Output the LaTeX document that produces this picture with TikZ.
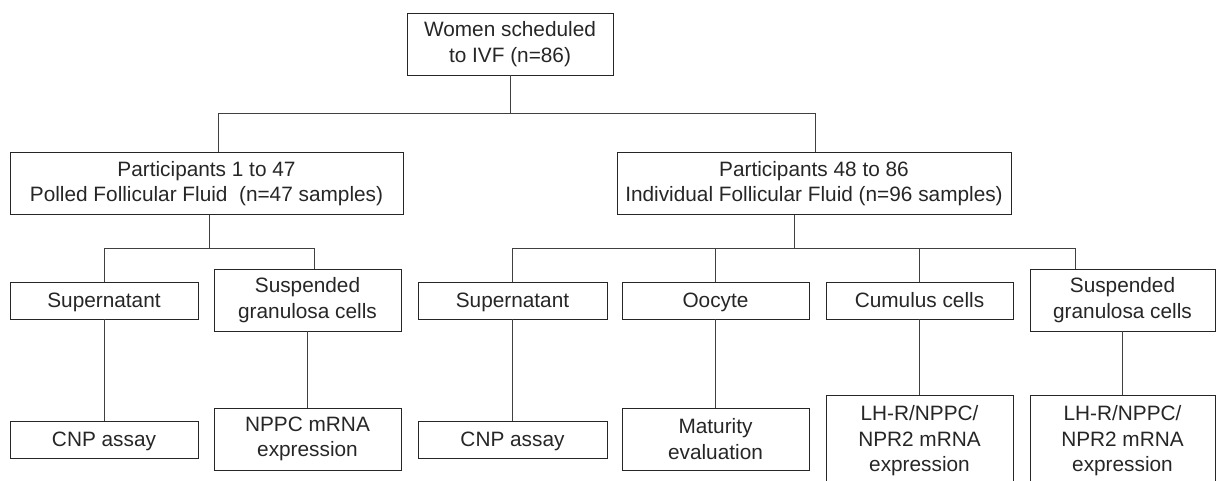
\documentclass[tikz,border=0pt]{standalone}
\usepackage{fontspec}
\setmainfont{Liberation Sans}
\usepackage{tikz}
\def\boxfont{\fontsize{20.8}{25.5}\selectfont}
\def\dline{\draw[black!75,line width=0.8pt]}

\begin{document}
\begin{tikzpicture}[x=1pt,y=-1pt,
    box/.style={draw=black!85,line width=0.9pt,inner sep=0pt,align=center,font=\boxfont,text=black!85},
    onebox/.style={box,minimum height=37pt,text height=15pt,text depth=0.5pt},
    twobox/.style={box,minimum height=62pt}]
  \useasboundingbox (0,0) rectangle (1216,481);
  \clip (0,0) rectangle (1216,481);
  % top
  \node[twobox,minimum width=206pt] (women) at (510,44) {Women scheduled\\to IVF (n=86)};
  % groups
  \node[twobox,minimum width=393pt] (pleft) at (206.5,183.5) {Participants 1 to 47\\Polled Follicular Fluid~~(n=47 samples)};
  \node[twobox,minimum width=394pt] (pright) at (814,183.5) {Participants 48 to 86\\Individual Follicular Fluid (n=96 samples)};
  % samples
  \node[onebox,minimum width=188pt] (supl) at (104,300.5) {Supernatant};
  \node[twobox,minimum width=187pt] (suspl) at (307.5,300) {Suspended\\granulosa cells};
  \node[onebox,minimum width=189pt] (supr) at (512.5,300.5) {Supernatant};
  \node[onebox,minimum width=187pt] (oocyte) at (715.5,300.5) {Oocyte};
  \node[onebox,minimum width=187pt] (cumulus) at (919.5,300.5) {Cumulus cells};
  \node[twobox,minimum width=185pt] (suspr) at (1122.5,300) {Suspended\\granulosa cells};
  % analyses
  \node[onebox,minimum width=188pt] (cnpl) at (104,439.5) {CNP assay};
  \node[twobox,minimum width=187pt] (nppc) at (307.5,439) {NPPC mRNA\\expression};
  \node[onebox,minimum width=189pt] (cnpr) at (512.5,439.5) {CNP assay};
  \node[twobox,minimum width=187pt] (matur) at (715.5,439) {Maturity\\evaluation};
  \node[box,minimum width=187pt,minimum height=92pt] (lhrc) at (919.5,441) {LH-R/NPPC/\\NPR2 mRNA\\expression};
  \node[box,minimum width=185pt,minimum height=92pt] (lhrs) at (1122.5,441) {LH-R/NPPC/\\NPR2 mRNA\\expression};
  % junctions
  \coordinate (j0) at (510,113);
  \coordinate (jl) at (218,113);
  \coordinate (jr) at (815,113);
  \coordinate (kl) at (209,248);
  \coordinate (kl2) at (314,248);
  \coordinate (kr) at (794,248);
  \coordinate (kr2) at (1075,248);
  % connectors
  \dline (women.south) -- (j0);
  \dline (jl |- pleft.north) -- (jl) -- (jr) -- (jr |- pright.north);
  \dline (kl |- pleft.south) -- (kl);
  \dline (supl.north) |- (kl2) -- (kl2 |- suspl.north);
  \dline (kr |- pright.south) -- (kr);
  \dline (supr.north) |- (kr2) -- (kr2 |- suspr.north);
  \dline (oocyte.north) -- (oocyte.north |- kr);
  \dline (cumulus.north) -- (cumulus.north |- kr);
  \dline (supl) -- (cnpl);
  \dline (suspl) -- (nppc);
  \dline (supr) -- (cnpr);
  \dline (oocyte) -- (matur);
  \dline (cumulus) -- (lhrc);
  \dline (suspr) -- (lhrs);
\end{tikzpicture}
\end{document}
